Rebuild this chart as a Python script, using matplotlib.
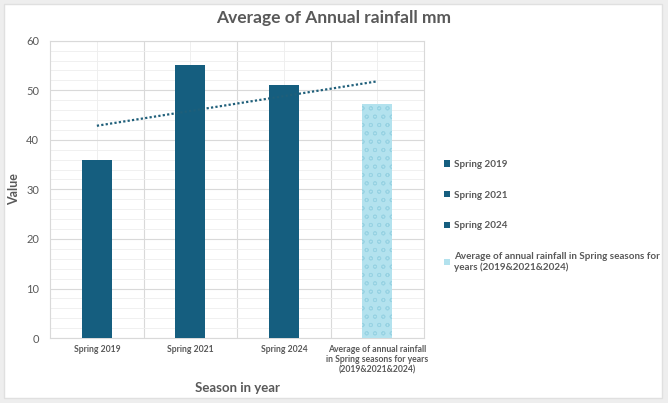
import matplotlib.pyplot as plt
import numpy as np
from matplotlib.patches import Patch, Rectangle

# Data
seasons = ["Spring 2019", "Spring 2021", "Spring 2024",
           "Average of annual rainfall\nin Spring seasons for years\n(2019&2021&2024)"]
legend_labels = ["Spring 2019", "Spring 2021", "Spring 2024",
                 "Average of annual rainfall in Spring seasons for\nyears (2019&2021&2024)"]
rainfall = [36, 55, 51, 47.3]

dark = "#155e7f"
light = "#b3e2ee"
grey = "#595959"

plt.rcParams['font.family'] = ['Lato', 'DejaVu Sans']
plt.rcParams['hatch.linewidth'] = 0.6

fig = plt.figure(figsize=(6.68, 4.03), dpi=100, facecolor="#eeeeee")
fig.patches.append(Rectangle((0.006, 0.012), 0.985, 0.978, transform=fig.transFigure,
                             facecolor="white", edgecolor="#e0e0e0", zorder=-1))

ax = fig.add_axes([0.075, 0.161, 0.56, 0.738])
ax.set_facecolor("white")

x = np.arange(len(rainfall))
colors = [dark, dark, dark, light]
bars = ax.bar(x, rainfall, width=0.32, color=colors, zorder=3)
bars[3].set_hatch("oo")
bars[3].set_edgecolor("#98d3e3")
bars[3].set_linewidth(0)

# linear trendline over all bars
k, m = np.polyfit(x, rainfall, 1)
ax.plot(x, k * x + m, linestyle=(0, (1, 1)), color="#1f5f7a", linewidth=1.6, zorder=4)

ax.set_xlim(-0.5, 3.5)
ax.set_ylim(0, 60)
ax.set_yticks(range(0, 61, 10))
ax.set_yticks(range(0, 61, 2), minor=True)
ax.set_xticks(x)
ax.set_xticks([0.5, 1.5, 2.5], minor=True)
ax.set_xticklabels(seasons, fontsize=6.2, fontweight="bold", color=grey)
ax.tick_params(axis="y", labelsize=8, colors=grey, length=0, pad=8)
ax.tick_params(axis="x", length=0, pad=5)
ax.tick_params(which="minor", length=0)

ax.grid(which="major", color="#d9d9d9", linewidth=0.8, zorder=0)
ax.grid(which="minor", color="#eeeeee", linewidth=0.6, zorder=0)
ax.grid(which="major", axis="x", color="#ececec", linewidth=0.6)
ax.grid(which="minor", axis="x", color="#d9d9d9", linewidth=0.8)
ax.set_axisbelow(True)
for sp in ax.spines.values():
    sp.set_color("#d9d9d9")
    sp.set_linewidth(0.8)

ax.set_xlabel("Season in year", fontsize=9.5, fontweight="bold", color=grey, labelpad=5)
ax.set_ylabel("Value", fontsize=9, fontweight="bold", color=grey, labelpad=4)
fig.suptitle("Average of Annual rainfall mm", fontsize=12.5, fontweight="bold",
             color=grey, x=0.5, y=0.975)

handles = [Patch(facecolor=c, edgecolor="none") for c in colors]
leg = fig.legend(handles, legend_labels, loc="upper left", bbox_to_anchor=(0.652, 0.625),
                 frameon=False, fontsize=7.1, handlelength=0.6, handleheight=0.6,
                 handletextpad=0.4, labelspacing=2.2)
for t in leg.get_texts():
    t.set_color(grey)
    t.set_fontweight("bold")

fig.savefig("out.png", dpi=100, facecolor=fig.get_facecolor())
